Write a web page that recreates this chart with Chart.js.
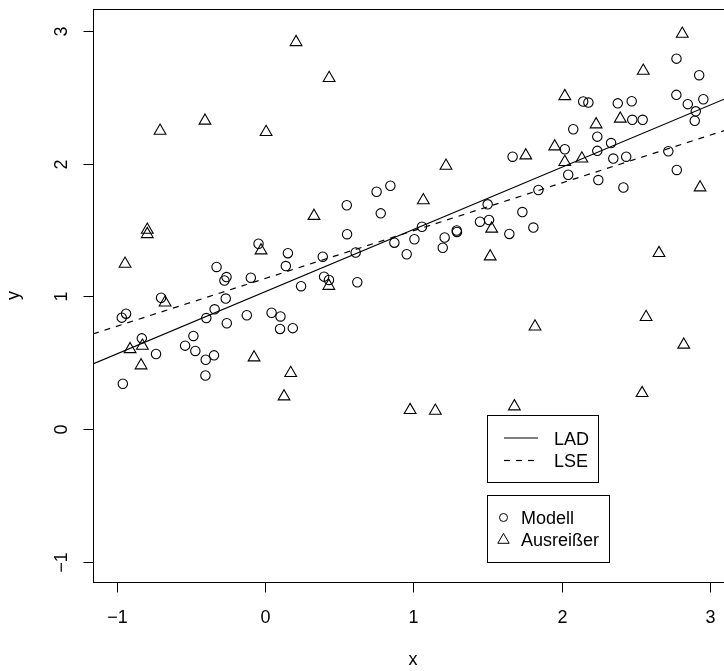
<!DOCTYPE html>
<html><head><meta charset="utf-8">
<script src="https://cdn.jsdelivr.net/npm/chart.js@4/dist/chart.umd.min.js"></script>
<style>
html,body{margin:0;padding:0;overflow:hidden;background:#fff;width:724px;height:671px}
#wrap{position:absolute;left:0;top:0;width:760px;height:671px}
</style>
</head><body><div id="wrap"><canvas id="c" width="760" height="671"></canvas></div>
<script>
// ---- data ----
const modellX = [-0.966,-0.937,-0.831,-0.959,-0.735,-0.701,-0.539,-0.483,-0.470,-0.400,-0.402,-0.344,-0.396,-0.340,-0.258,-0.265,-0.327,-0.274,-0.260,-0.096,-0.044,-0.123,0.044,0.104,0.101,0.187,0.140,0.154,0.243,1.669,0.845,0.752,0.551,0.780,1.501,1.449,1.510,0.553,1.647,1.292,1.294,1.058,1.007,1.211,1.198,0.955,0.872,0.611,0.389,0.398,0.431,0.622,2.774,2.927,2.773,2.955,2.850,2.904,2.897,2.145,2.180,2.378,2.472,2.476,2.546,2.078,2.240,2.240,2.333,2.021,2.348,2.435,2.719,2.044,2.247,2.416,2.776,1.843,1.735,1.809];
const modellY = [0.839,0.869,0.683,0.341,0.565,0.989,0.628,0.701,0.588,0.522,0.403,0.555,0.836,0.902,0.797,0.983,1.221,1.119,1.145,1.140,1.396,0.857,0.876,0.848,0.754,0.760,1.228,1.325,1.076,2.052,1.833,1.788,1.686,1.625,1.693,1.562,1.575,1.468,1.470,1.496,1.485,1.524,1.430,1.443,1.366,1.317,1.404,1.330,1.298,1.148,1.123,1.106,2.791,2.666,2.518,2.485,2.448,2.394,2.323,2.468,2.460,2.454,2.470,2.330,2.330,2.259,2.203,2.096,2.155,2.108,2.038,2.052,2.093,1.916,1.876,1.820,1.952,1.801,1.635,1.518];
const ausreisserX = [0.209,-0.708,-0.405,0.007,0.432,1.220,1.067,0.330,2.813,2.550,2.021,2.395,2.232,1.953,1.758,2.021,2.136,2.933,-0.794,-0.794,-0.944,-0.674,-0.027,-0.910,-0.827,-0.836,-0.074,0.173,0.128,0.430,1.528,1.518,0.978,1.148,1.681,2.656,1.820,2.569,2.823,2.542];
const ausreisserY = [2.915,2.247,2.323,2.237,2.644,1.983,1.723,1.605,2.978,2.699,2.508,2.338,2.295,2.129,2.061,2.011,2.038,1.820,1.501,1.468,1.245,0.953,1.345,0.601,0.627,0.479,0.539,0.421,0.245,1.078,1.509,1.300,0.142,0.137,0.170,1.325,0.772,0.843,0.635,0.270];
const ladCoef = [1.034, 0.469];   // intercept, slope
const lseCoef = [1.134, 0.360];
const xTicks = [-1, 0, 1, 2, 3];
const xTickLabels = ['\u22121', '0', '1', '2', '3'];
const yTicks = [-1, 0, 1, 2, 3];
const yTickLabels = ['\u22121', '0', '1', '2', '3'];
const lineLegend = ['LAD', 'LSE'];
const pointLegend = ['Modell', 'Ausreißer'];
const xTitle = 'x', yTitle = 'y';

const X_MIN = -1.16, X_MAX = 3.155, Y_MIN = -1.153, Y_MAX = 3.165;
const FONT = '18px "Liberation Sans", Arial, sans-serif';
const DASH = [6, 6];

const toPts = (xs, ys) => xs.map((v, i) => ({x: v, y: ys[i]}));
const linePts = c => [{x: X_MIN, y: c[0] + c[1] * X_MIN}, {x: X_MAX, y: c[0] + c[1] * X_MAX}];

const frame = {
  id: 'frame',
  afterDraw(chart) {
    const {ctx, chartArea: ca, scales: {x, y}} = chart;
    ctx.save();
    ctx.strokeStyle = '#000'; ctx.fillStyle = '#000'; ctx.lineWidth = 1;
    ctx.setLineDash([]);
    // box
    ctx.strokeRect(Math.round(ca.left) + 0.5, Math.round(ca.top) + 0.5,
      Math.round(ca.right - ca.left), Math.round(ca.bottom - ca.top));
    const bot = Math.round(ca.bottom) + 0.5, lef = Math.round(ca.left) + 0.5;
    ctx.font = FONT;
    // x ticks
    ctx.textAlign = 'center'; ctx.textBaseline = 'alphabetic';
    xTicks.forEach((t, i) => {
      const px = Math.round(x.getPixelForValue(t)) + 0.5;
      ctx.beginPath(); ctx.moveTo(px, bot); ctx.lineTo(px, bot + 10); ctx.stroke();
      ctx.fillText(xTickLabels[i], px, 623);
    });
    // y ticks
    yTicks.forEach((t, i) => {
      const py = Math.round(y.getPixelForValue(t)) + 0.5;
      ctx.beginPath(); ctx.moveTo(lef, py); ctx.lineTo(lef - 10, py); ctx.stroke();
      ctx.save(); ctx.translate(67, py); ctx.rotate(-Math.PI / 2);
      ctx.fillText(yTickLabels[i], 0, 0); ctx.restore();
    });
    // titles
    ctx.fillText(xTitle, (ca.left + ca.right) / 2, 665);
    ctx.save(); ctx.translate(19, (ca.top + ca.bottom) / 2); ctx.rotate(-Math.PI / 2);
    ctx.fillText(yTitle, 0, 0); ctx.restore();
    // legend 1: lines
    ctx.textAlign = 'left';
    ctx.strokeRect(487.5, 415.5, 111, 67);
    ctx.lineWidth = 1.2;
    ctx.beginPath(); ctx.moveTo(504, 438); ctx.lineTo(538, 438); ctx.stroke();
    ctx.setLineDash(DASH);
    ctx.beginPath(); ctx.moveTo(504, 460.5); ctx.lineTo(538, 460.5); ctx.stroke();
    ctx.setLineDash([]); ctx.lineWidth = 1;
    ctx.fillText(lineLegend[0], 554, 445);
    ctx.fillText(lineLegend[1], 554, 467);
    // legend 2: points
    ctx.strokeRect(487.5, 495.5, 122, 67);
    ctx.beginPath(); ctx.arc(503.5, 517.5, 4, 0, Math.PI * 2); ctx.stroke();
    const r = 6.6, cx = 503.5, cy = 540;
    ctx.beginPath();
    for (let k = 0; k < 3; k++) {
      const a = k * 2 * Math.PI / 3;
      const px = cx + Math.sin(a) * r, py = cy - Math.cos(a) * r;
      k === 0 ? ctx.moveTo(px, py) : ctx.lineTo(px, py);
    }
    ctx.closePath(); ctx.stroke();
    ctx.fillText(pointLegend[0], 521, 524);
    ctx.fillText(pointLegend[1], 521, 546);
    ctx.restore();
  }
};

new Chart(document.getElementById('c'), {
  type: 'scatter',
  data: {
    datasets: [
      {label: 'LAD', data: linePts(ladCoef), showLine: true, borderColor: '#000', borderWidth: 1.2, pointRadius: 0, fill: false},
      {label: 'LSE', data: linePts(lseCoef), showLine: true, borderColor: '#000', borderWidth: 1.2, borderDash: DASH, pointRadius: 0, fill: false},
      {label: 'Modell', data: toPts(modellX, modellY), pointStyle: 'circle', pointRadius: 4.7, borderColor: '#000', borderWidth: 1.1, backgroundColor: 'rgba(0,0,0,0)'},
      {label: 'Ausreißer', data: toPts(ausreisserX, ausreisserY), pointStyle: 'triangle', pointRadius: 6.8, borderColor: '#000', borderWidth: 1.1, backgroundColor: 'rgba(0,0,0,0)'}
    ]
  },
  options: {
    responsive: false, animation: false, events: [],
    layout: {padding: {left: 93, top: 9, right: 27, bottom: 89}},
    scales: {
      x: {type: 'linear', min: X_MIN, max: X_MAX, display: false},
      y: {type: 'linear', min: Y_MIN, max: Y_MAX, display: false}
    },
    plugins: {legend: {display: false}, tooltip: {enabled: false}}
  },
  plugins: [frame]
});
</script>
</body></html>
